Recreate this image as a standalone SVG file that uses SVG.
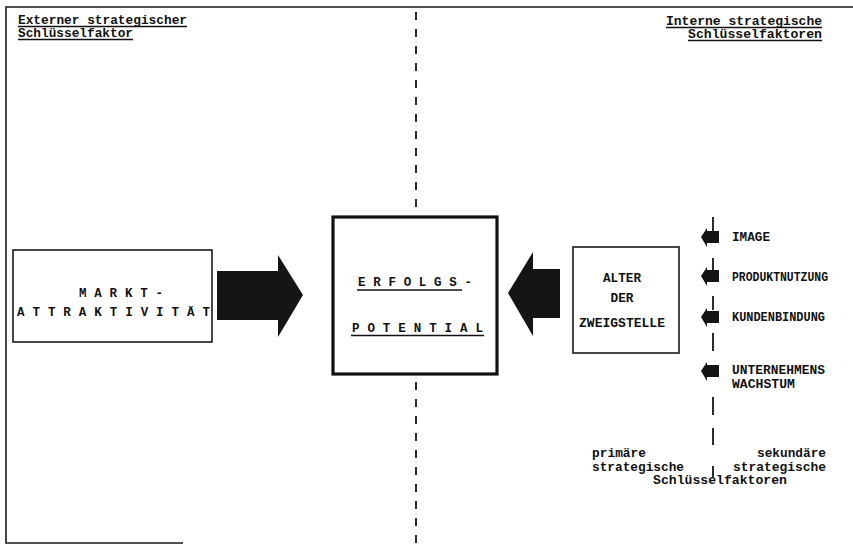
<svg xmlns="http://www.w3.org/2000/svg" width="853" height="544" viewBox="0 0 853 544">
<defs>
<style>
.frame{stroke:#1a1a1a;stroke-width:1.6;fill:none}
.box{fill:#fff;stroke:#1a1a1a;stroke-width:1.6}
.thick{fill:#fff;stroke:#111;stroke-width:3.2}
.fill{fill:#151515}
.dash{stroke:#151515;stroke-width:1.8}
.t{font-family:"Liberation Mono","DejaVu Sans Mono",monospace;fill:#111}
.hd{font-size:12.5px;font-weight:bold}
.sp{font-size:12.5px;font-weight:bold}
.lb{font-size:12.5px;font-weight:bold}
.ul{stroke:#111;stroke-width:1.3}
</style>
<path id="sa" class="fill" d="M0,0 L6,-9 L6,-6 L18,-6 L18,6 L6,6 L6,10 Z"/>
</defs>
<g id="frame">
<path class="frame" d="M853,7 L6,7 L6,543 L183,543"/>
</g>
<g id="connectors">
<line class="dash" x1="416" y1="12" x2="416" y2="216" stroke-dasharray="8,9"/>
<line class="dash" x1="416" y1="382" x2="416" y2="544" stroke-dasharray="8,9"/>
<line class="dash" x1="713" y1="217" x2="713" y2="234"/>
<line class="dash" x1="713" y1="258" x2="713" y2="270"/>
<line class="dash" x1="713" y1="296" x2="713" y2="310"/>
<line class="dash" x1="713" y1="333" x2="713" y2="351"/>
<line class="dash" x1="713" y1="397" x2="713" y2="415"/>
<line class="dash" x1="713" y1="428" x2="713" y2="445"/>
<line class="dash" x1="713" y1="466" x2="713" y2="477"/>
<path id="bigarrow-right" class="fill" d="M217,271 L278,271 L278,255 L303,295 L278,337 L278,320 L217,320 Z"/>
<path id="bigarrow-left" class="fill" d="M560,269 L533,269 L533,252 L508,293 L533,336 L533,318 L560,318 Z"/>
<use href="#sa" x="701" y="237"/>
<use href="#sa" x="701" y="276"/>
<use href="#sa" x="701" y="317"/>
<use href="#sa" x="701" y="371"/>
</g>
<g id="header-left">
<text class="t hd" x="18" y="24" textLength="169" lengthAdjust="spacingAndGlyphs">Externer strategischer</text>
<line class="ul" x1="18" y1="26.5" x2="187" y2="26.5"/>
<text class="t hd" x="18" y="37" textLength="115" lengthAdjust="spacingAndGlyphs">Schlüsselfaktor</text>
<line class="ul" x1="18" y1="39.5" x2="133" y2="39.5"/>
</g>
<g id="header-right">
<text class="t hd" x="822" y="25" text-anchor="end" textLength="156" lengthAdjust="spacingAndGlyphs">Interne strategische</text>
<line class="ul" x1="666" y1="27.5" x2="822" y2="27.5"/>
<text class="t hd" x="822" y="38" text-anchor="end" textLength="134" lengthAdjust="spacingAndGlyphs">Schlüsselfaktoren</text>
<line class="ul" x1="688" y1="40.5" x2="822" y2="40.5"/>
</g>
<g id="markt">
<rect class="box" x="13" y="250" width="199" height="92"/>
<text class="t sp" x="79" y="297" textLength="84" lengthAdjust="spacing">M A R K T -</text>
<text class="t sp" x="17" y="316" textLength="193" lengthAdjust="spacing">A T T R A K T I V I T Ä T</text>
</g>
<g id="erfolg">
<rect class="thick" x="333" y="217" width="164" height="157"/>
<text class="t sp" x="358" y="286" textLength="114" lengthAdjust="spacing">E R F O L G S -</text>
<line class="ul" x1="357" y1="290" x2="462" y2="290"/>
<text class="t sp" x="352" y="332" textLength="131" lengthAdjust="spacing">P O T E N T I A L</text>
<line class="ul" x1="351" y1="335.5" x2="484" y2="335.5"/>
</g>
<g id="alter">
<rect class="box" x="573" y="247" width="106" height="106"/>
<text class="t lb" x="622" y="282" text-anchor="middle" textLength="38" lengthAdjust="spacingAndGlyphs">ALTER</text>
<text class="t lb" x="622" y="302" text-anchor="middle" textLength="23" lengthAdjust="spacingAndGlyphs">DER</text>
<text class="t lb" x="622" y="327" text-anchor="middle" textLength="86" lengthAdjust="spacingAndGlyphs">ZWEIGSTELLE</text>
</g>
<g id="image"><text class="t lb" x="732" y="241" textLength="38" lengthAdjust="spacingAndGlyphs">IMAGE</text></g>
<g id="produktnutzung"><text class="t lb" x="732" y="281" textLength="96" lengthAdjust="spacingAndGlyphs">PRODUKTNUTZUNG</text></g>
<g id="kundenbindung"><text class="t lb" x="732" y="321" textLength="93" lengthAdjust="spacingAndGlyphs">KUNDENBINDUNG</text></g>
<g id="unternehmenswachstum">
<text class="t lb" x="732" y="374" textLength="93" lengthAdjust="spacingAndGlyphs">UNTERNEHMENS</text>
<text class="t lb" x="732" y="388" textLength="63" lengthAdjust="spacingAndGlyphs">WACHSTUM</text>
</g>
<g id="legend">
<text class="t hd" x="592" y="457" textLength="54" lengthAdjust="spacingAndGlyphs">primäre</text>
<text class="t hd" x="826" y="457" text-anchor="end" textLength="69" lengthAdjust="spacingAndGlyphs">sekundäre</text>
<text class="t hd" x="592" y="471" textLength="92" lengthAdjust="spacingAndGlyphs">strategische</text>
<text class="t hd" x="826" y="471" text-anchor="end" textLength="93" lengthAdjust="spacingAndGlyphs">strategische</text>
<text class="t hd" x="653" y="484" textLength="134" lengthAdjust="spacingAndGlyphs">Schlüsselfaktoren</text>
</g>
</svg>
